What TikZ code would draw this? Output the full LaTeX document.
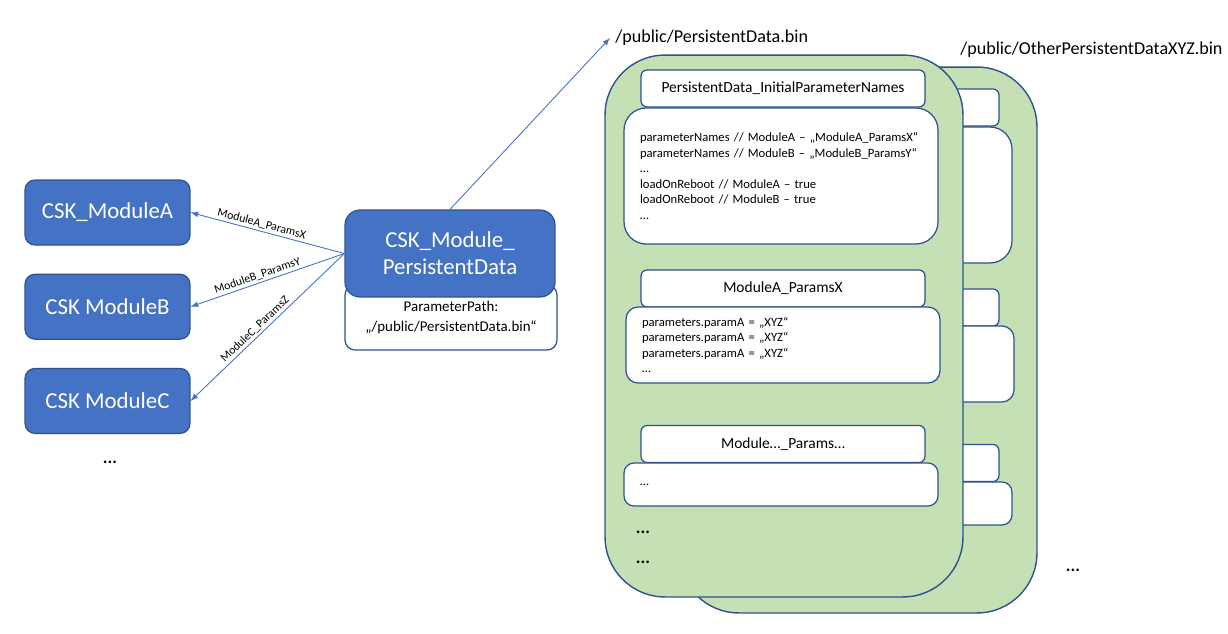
\documentclass[tikz,border=0pt]{standalone}
\usepackage{fontspec}
\setmainfont{Carlito}
\usepackage{tikz}
\usetikzlibrary{positioning}
\definecolor{modblue}{HTML}{4472C4}
\definecolor{edgeblue}{HTML}{2F528F}
\definecolor{cardgreen}{HTML}{C5E0B4}

\begin{document}
\begin{tikzpicture}[
    x=0.02cm, y=-0.02cm,
    node distance=0.56cm and 1.5cm,
    module/.style={draw=edgeblue,fill=modblue,text=white,line width=0.7pt,rounded corners=0.2cm,minimum width=3.3cm,minimum height=1.3cm,font=\fontsize{13}{15.4}\selectfont},
    pathbox/.style={draw=edgeblue,fill=white,line width=0.7pt,rounded corners=0.2cm,minimum width=4.24cm,minimum height=1.3cm,align=center,font=\fontsize{8.5}{11.4}\selectfont},
    card/.style={draw=edgeblue,fill=cardgreen,line width=0.8pt,rounded corners=1.2cm,minimum width=7.16cm},
    title/.style={draw=edgeblue,fill=white,line width=0.7pt,rounded corners=0.12cm,minimum width=5.68cm,minimum height=0.74cm,font=\fontsize{8.8}{10}\selectfont},
    content/.style={draw=edgeblue,fill=white,line width=0.7pt,align=left,inner xsep=0.32cm,text width=5.64cm,font=\fontsize{7.2}{8.8}\selectfont},
    flow/.style={draw=modblue,line width=0.5pt,-latex},
    lbl/.style={font=\fontsize{6.7}{8}\selectfont,sloped,above,inner sep=1pt,pos=0.55},
    filelbl/.style={anchor=west,inner sep=0.1cm,font=\fontsize{10.3}{12}\selectfont},
    moredots/.style={font=\fontsize{10}{12}\selectfont\bfseries}
    ]

    \useasboundingbox (0,0) rectangle (1228,633);

    % modules on the left
    \node[module] (modA) at (107.5,212.5) {CSK\_ModuleA};
    \node[module, below=of modA] (modB) {CSK ModuleB};
    \node[module, below=of modB] (modC) {CSK ModuleC};
    \node[moredots] (modmore) at (110,462) {...};

    % persistent data module
    \node[pathbox] (parampath) at (451,317.5) {ParameterPath:\\„/public/PersistentData.bin“};
    \node[module, minimum width=4.2cm, minimum height=1.74cm, rounded corners=0.3cm, align=center] (persist) at (450,253.5) {CSK\_Module\_\\PersistentData};

    \path (persist.west) edge[flow] node[lbl] {ModuleA\_ParamsX} (modA.east)
    (persist.west) edge[flow] node[lbl] {ModuleB\_ParamsY} (modB.east)
    (persist.west) edge[flow] node[lbl] {ModuleC\_ParamsZ} (modC.east);

    % files
    \node[filelbl] (pathlbl) at (610,38) {/public/PersistentData.bin};
    \node[filelbl] (otherlbl) at (955,50) {/public/OtherPersistentDataXYZ.bin};
    \draw[flow] (persist.north) -- (pathlbl.west);

    % back card
    \node[card, minimum height=10.92cm] (backcard) at (858,340) {};
    \node[title] (binit) at (857,107.5) {};
    \node[content, minimum height=2.72cm, rounded corners=0.44cm] (bbody) at (855,195) {};
    \node[title] (bparams) at (857,307.5) {};
    \node[content, minimum height=1.52cm, rounded corners=0.24cm] (bparamsbody) at (857,364) {};
    \node[title] (bmore) at (857,463) {};
    \node[content, minimum height=0.86cm, rounded corners=0.2cm] (bmorebody) at (855,503.5) {};

    % front card
    \node[card, minimum height=10.84cm] (frontcard) at (784,326) {};
    \node[title] (init) at (783,88.5) {PersistentData\_InitialParameterNames};
    \node[content, minimum height=2.72cm, rounded corners=0.44cm] (initbody) at (781,176) {%
        parameterNames // ModuleA – „ModuleA\_ParamsX“\\
        parameterNames // ModuleB – „ModuleB\_ParamsY“\\
        …\\
        loadOnReboot // ModuleA – true\\
        loadOnReboot // ModuleB – true\\
        …};
    \node[title] (params) at (783,288.5) {ModuleA\_ParamsX};
    \node[content, minimum height=1.52cm, rounded corners=0.24cm] (paramsbody) at (783,345) {%
        parameters.paramA = „XYZ“\\
        parameters.paramA = „XYZ“\\
        parameters.paramA = „XYZ“\\
        …};
    \node[title] (more) at (783,444) {Module…\_Params…};
    \node[content, minimum height=0.86cm, rounded corners=0.2cm] (morebody) at (781,484.5) {…};
    \node[moredots] (cardmoreA) at (643,532) {...};
    \node[moredots] (cardmoreB) at (643,562) {...};

    \node[moredots] (filemore) at (1073,570) {...};

  \end{tikzpicture}
\end{document}
